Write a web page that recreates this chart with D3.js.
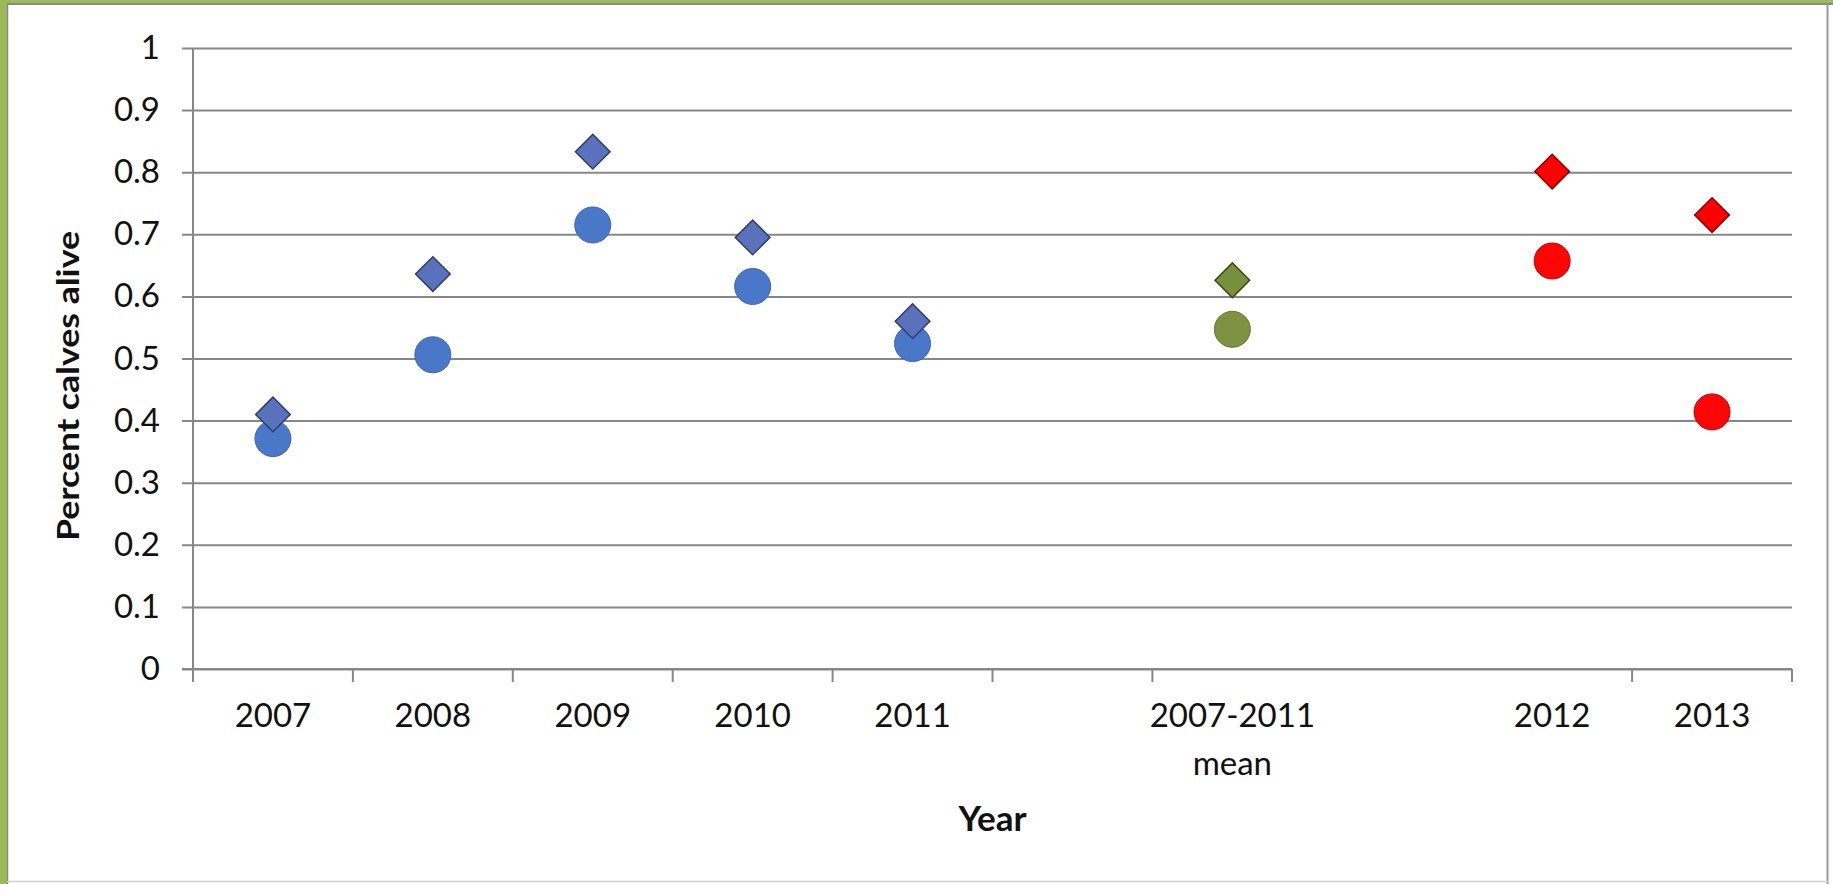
<!DOCTYPE html>
<html>
<head>
<meta charset="utf-8">
<script src="https://cdn.jsdelivr.net/npm/d3@7/dist/d3.min.js"></script>
<style>
  html, body { margin: 0; padding: 0; background: #ffffff; }
  svg { display: block; }
</style>
</head>
<body>
<svg id="chart" width="1833" height="884"></svg>
<script>
// ---------------- data ----------------
const categories = ["2007", "2008", "2009", "2010", "2011", "", "2007-2011\nmean", "", "2012", "2013"];
const groups = ["years", "years", "years", "years", "years", "", "mean", "", "recent", "recent"];
const diamondValues = [0.41, 0.636, 0.833, 0.695, 0.56, null, 0.626, null, 0.801, 0.731];
const circleValues = [0.371, 0.506, 0.715, 0.616, 0.524, null, 0.547, null, 0.657, 0.414];
const yTicks = [0, 0.1, 0.2, 0.3, 0.4, 0.5, 0.6, 0.7, 0.8, 0.9, 1];
const yTickLabels = ["0", "0.1", "0.2", "0.3", "0.4", "0.5", "0.6", "0.7", "0.8", "0.9", "1"];
const xTickBoundaries = [0, 1, 2, 3, 4, 5, 6, 9, 10];
const yAxisTitle = "Percent calves alive";
const xAxisTitle = "Year";

// ---------------- styles ----------------
const W = 1833, H = 884;
const plot = { left: 193, right: 1792, top: 48, bottom: 669 };
const gridColor = "#878787";
const fontFamily = "Lato, 'Open Sans', sans-serif";
const diamondStyle = {
  years: { fill: "#5a72bb", stroke: "#2e3d70" },
  mean: { fill: "#77903c", stroke: "#3c4a1c" },
  recent: { fill: "#ff0000", stroke: "#8a0000" }
};
const circleStyle = {
  years: { fill: "#4a78c8", stroke: "#3b64ac" },
  mean: { fill: "#7f9142", stroke: "#66752f" },
  recent: { fill: "#ff0505", stroke: "#c40000" }
};

const svg = d3.select("#chart");

// frame
svg.append("rect").attr("x", 0).attr("y", 0).attr("width", W).attr("height", H).attr("fill", "#ffffff");
svg.append("rect").attr("x", 0).attr("y", 0).attr("width", 7).attr("height", H).attr("fill", "#9bbb59");
svg.append("rect").attr("x", 0).attr("y", 0).attr("width", W).attr("height", 3).attr("fill", "#9bbb59");
svg.append("line").attr("x1", 7.5).attr("x2", 7.5).attr("y1", 3).attr("y2", H).attr("stroke", "#8a8a8a").attr("stroke-width", 1.5);
svg.append("line").attr("x1", 7).attr("x2", W).attr("y1", 4).attr("y2", 4).attr("stroke", "#8a8a8a").attr("stroke-width", 2);
svg.append("line").attr("x1", 1827.5).attr("x2", 1827.5).attr("y1", 4).attr("y2", H).attr("stroke", "#9a9a9a").attr("stroke-width", 2);
svg.append("line").attr("x1", 7).attr("x2", 1828).attr("y1", 881.5).attr("y2", 881.5).attr("stroke", "#d0d0d0").attr("stroke-width", 1.5);

// scales
const x = d3.scaleBand().domain(d3.range(categories.length)).range([plot.left, plot.right]).padding(0);
const y = d3.scaleLinear().domain([0, 1]).range([plot.bottom, plot.top]);

// gridlines (+ outward y ticks)
const gy = svg.append("g").attr("transform", `translate(${plot.right},0)`);
gy.call(d3.axisLeft(y).tickValues(yTicks).tickSize(plot.right - plot.left + 11).tickFormat(""));
gy.select(".domain").remove();
gy.selectAll(".tick line").attr("stroke", gridColor).attr("stroke-width", 2);

// y labels
const gyl = svg.append("g").attr("transform", `translate(${plot.left},0)`);
gyl.call(d3.axisLeft(y).tickValues(yTicks).tickFormat((d, i) => yTickLabels[i]).tickSize(0).tickPadding(33));
gyl.select(".domain").remove();
gyl.selectAll(".tick text")
  .attr("font-family", fontFamily).attr("font-size", 33).attr("fill", "#111");

// y axis line
svg.append("line").attr("x1", plot.left).attr("x2", plot.left)
  .attr("y1", plot.top).attr("y2", plot.bottom + 12)
  .attr("stroke", gridColor).attr("stroke-width", 2);
// x axis line
svg.append("line").attr("x1", plot.left - 11).attr("x2", plot.right)
  .attr("y1", plot.bottom).attr("y2", plot.bottom)
  .attr("stroke", gridColor).attr("stroke-width", 2);
// x ticks at band boundaries
svg.append("g").selectAll("line").data(xTickBoundaries).join("line")
  .attr("x1", b => b < categories.length ? x(b) : x(categories.length - 1) + x.bandwidth())
  .attr("x2", b => b < categories.length ? x(b) : x(categories.length - 1) + x.bandwidth())
  .attr("y1", plot.bottom).attr("y2", plot.bottom + 13)
  .attr("stroke", gridColor).attr("stroke-width", 2);

// x labels
const xl = svg.append("g").selectAll("text").data(categories).join("text")
  .attr("x", (d, i) => x(i) + x.bandwidth() / 2)
  .attr("y", 727)
  .attr("text-anchor", "middle")
  .attr("font-family", fontFamily).attr("font-size", 33).attr("fill", "#111");
xl.each(function (d) {
  const lines = d.split("\n");
  const t = d3.select(this);
  lines.forEach((ln, k) => {
    t.append("tspan").attr("x", t.attr("x")).attr("dy", k === 0 ? 0 : 48).text(ln);
  });
});

// axis titles
svg.append("text")
  .attr("transform", `translate(79,386) rotate(-90)`)
  .attr("text-anchor", "middle")
  .attr("font-family", fontFamily).attr("font-weight", "bold").attr("font-size", 30).attr("fill", "#111")
  .attr("textLength", 310).attr("lengthAdjust", "spacingAndGlyphs")
  .text(yAxisTitle);
svg.append("text")
  .attr("x", (plot.left + plot.right) / 2).attr("y", 831)
  .attr("text-anchor", "middle")
  .attr("font-family", fontFamily).attr("font-weight", "bold").attr("font-size", 35).attr("fill", "#111")
  .text(xAxisTitle);

// points
const pts = categories.map((c, i) => ({ i, g: groups[i], d: diamondValues[i], c: circleValues[i] }));

svg.append("g").selectAll("circle").data(pts.filter(p => p.c != null)).join("circle")
  .attr("cx", p => x(p.i) + x.bandwidth() / 2)
  .attr("cy", p => y(p.c))
  .attr("r", 18)
  .attr("fill", p => circleStyle[p.g].fill)
  .attr("stroke", p => circleStyle[p.g].stroke)
  .attr("stroke-width", 1);

const diamond = d3.symbol().type(d3.symbolSquare).size(600);
svg.append("g").selectAll("path").data(pts.filter(p => p.d != null)).join("path")
  .attr("d", diamond)
  .attr("transform", p => `translate(${x(p.i) + x.bandwidth() / 2},${y(p.d)}) rotate(45)`)
  .attr("fill", p => diamondStyle[p.g].fill)
  .attr("stroke", p => diamondStyle[p.g].stroke)
  .attr("stroke-width", 1.5);
</script>
</body>
</html>
